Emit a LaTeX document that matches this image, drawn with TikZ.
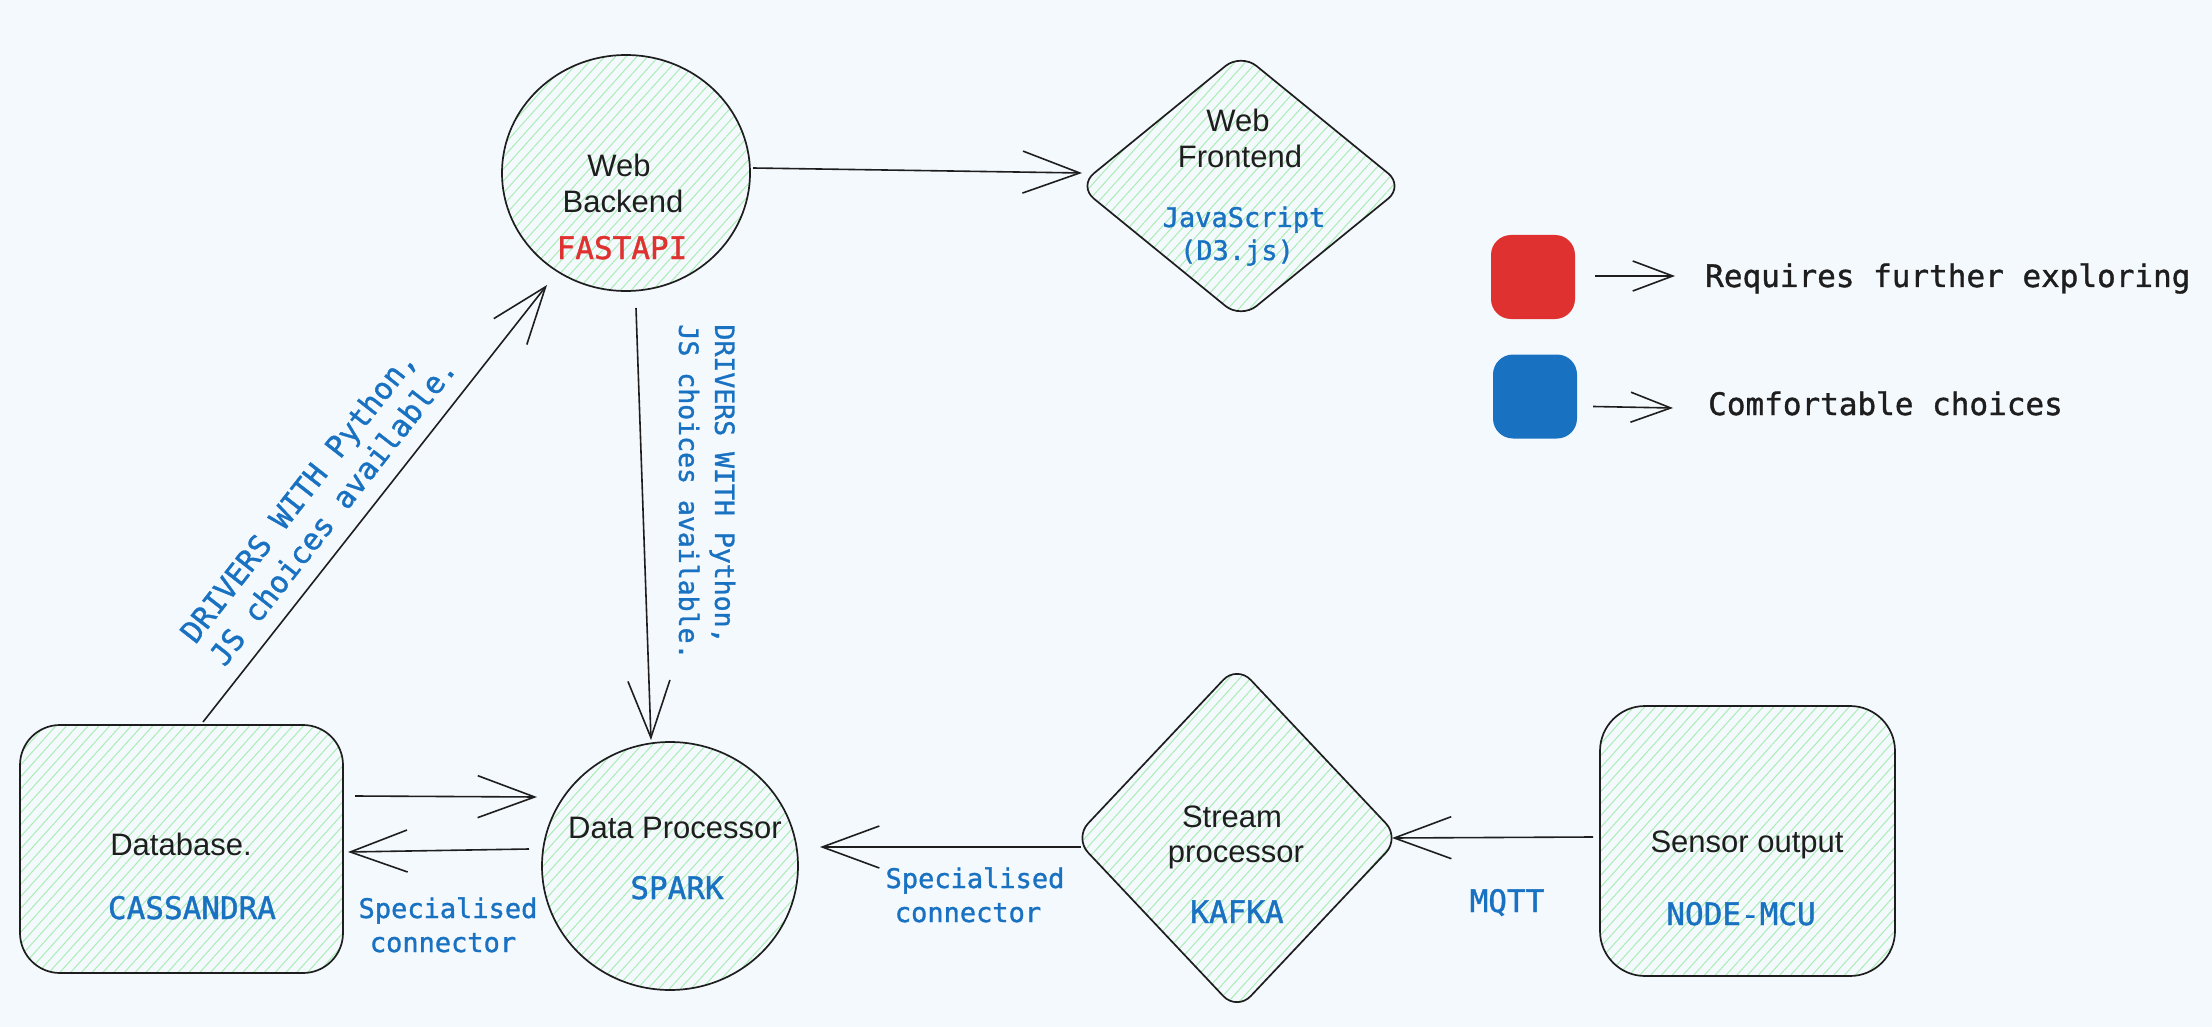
\documentclass[tikz,border=0pt]{standalone}
\usepackage{fontspec}
\setmainfont{Liberation Sans}
\newfontfamily\codefont[FakeBold=1.2]{DejaVu Sans Mono}
\usetikzlibrary{shapes.geometric,arrows.meta,patterns.meta,calc}
\definecolor{ink}{HTML}{1E1E1E}
\definecolor{codeblue}{HTML}{1971C2}
\definecolor{codered}{HTML}{E03131}
\definecolor{hatch}{HTML}{A9EDB3}
\definecolor{bgc}{HTML}{F4F9FD}
\begin{document}
\begin{tikzpicture}[x=1pt,y=-1pt,
  shp/.style={draw=ink, line width=1.7pt, pattern={Lines[angle=48,distance=8pt,line width=1pt]}, pattern color=hatch, inner sep=0pt},
  sans/.style={anchor=base, inner sep=0pt, text=ink, font=\fontsize{31}{37}\selectfont},
  code/.style={anchor=base, inner sep=0pt, text=codeblue, font=\codefont\fontsize{31}{37}\selectfont},
  note/.style={anchor=base, inner sep=0pt, text=codeblue, font=\codefont\fontsize{27}{33}\selectfont},
  legend/.style={anchor=base west, inner sep=0pt, text=ink, font=\codefont\fontsize{31}{37}\selectfont},
  arr/.style={draw=ink, line width=1.6pt, -{Straight Barb[length=57pt,width=42pt,line width=1.6pt]}},
  legarr/.style={draw=ink, line width=1.6pt, -{Straight Barb[length=40pt,width=30pt,line width=1.6pt]}},
  swatch/.style={rounded corners=20pt, minimum width=84pt, minimum height=84pt, inner sep=0pt}
]
\fill[bgc] (0,0) rectangle (2212,1027);
\useasboundingbox (0,0) rectangle (2212,1027);

% shapes
\node[shp, ellipse, minimum width=248pt, minimum height=236pt] (backend) at (626,173) {};
\node[shp, diamond, aspect=1.2256, minimum width=326pt, minimum height=266pt, rounded corners=20pt] (frontend) at (1241,186) {};
\node[shp, rectangle, rounded corners=40pt, minimum width=323pt, minimum height=248pt] (db) at (181.5,849) {};
\node[shp, ellipse, minimum width=256pt, minimum height=248pt] (spark) at (670,866) {};
\node[shp, diamond, aspect=0.9422, minimum width=326pt, minimum height=346pt, rounded corners=20pt] (kafka) at (1237,838) {};
\node[shp, rectangle, rounded corners=45pt, minimum width=295pt, minimum height=270pt] (sensor) at (1747.5,841) {};

% texts in shapes
\node[sans] (t-web1) at (619,177) {Web};
\node[sans] (t-backend) at (623,213) {Backend};
\node[code, text=codered] (t-fastapi) at (622,259) {FASTAPI};

\node[sans] (t-web2) at (1238,132) {Web};
\node[sans] (t-frontend) at (1240,168) {Frontend};
\node[note] (t-js) at (1244,227) {JavaScript};
\node[note] (t-d3) at (1237,260) {(D3.js)};

\node[sans] (t-db) at (181,855) {Database.};
\node[code] (t-cass) at (192,919) {CASSANDRA};

\node[sans] (t-dp) at (675,838) {Data Processor};
\node[code] (t-spark) at (677,899) {SPARK};

\node[sans] (t-stream) at (1232,827) {Stream};
\node[sans] (t-proc) at (1236,862) {processor};
\node[code] (t-kafka) at (1237,923) {KAFKA};

\node[sans] (t-sensor) at (1747,852) {Sensor output};
\node[code] (t-node) at (1741,925) {NODE-MCU};

% connector labels
\node[note] (l-spec1) at (448,918) {Specialised};
\node[note] (l-conn1) at (443,952) {connector};
\node[note] (l-spec2) at (975,888) {Specialised};
\node[note] (l-conn2) at (968,922) {connector};
\node[code] (l-mqtt) at (1507,912) {MQTT};
\node[note, anchor=center, rotate=52, align=left, font=\codefont\fontsize{30}{37}\selectfont] (l-drv1) at (318,500) {DRIVERS WITH Python,\\JS choices available.};
\node[note, anchor=center, rotate=-90, align=left, font=\codefont\fontsize{26.5}{36}\selectfont] (l-drv2) at (707,492) {DRIVERS WITH Python,\\JS choices available.};

% connectors
\draw[arr] ($(backend)+(127,-5)$) -- ($(frontend)+(-159,-13)$);
\draw[arr] ($(db)+(21.5,-127)$) -- ($(backend)+(-79,112)$);
\draw[arr] ($(backend)+(10,135)$) -- ($(spark)+(-19,-126)$);
\draw[arr] ($(db)+(173.5,-53)$) -- ($(spark)+(-133,-69)$);
\draw[arr] ($(spark)+(-141,-17)$) -- ($(db)+(166.5,3)$);
\draw[arr] ($(kafka)+(-156,9)$) -- ($(spark)+(150,-19)$);
\draw[arr] ($(sensor)+(-154.5,-4)$) -- ($(kafka)+(155,0)$);

% legend
\node[swatch, fill=codered] (red) at (1533,277) {};
\node[swatch, fill=codeblue] (blue) at (1535,396.5) {};
\node[legend] (l-req) at (1705,287) {Requires further exploring};
\node[legend] (l-comf) at (1708,415) {Comfortable choices};
\draw[legarr] ($(red.east)+(20,-1)$) -- ($(l-req.base west)+(-30,-11)$);
\draw[legarr] ($(blue.east)+(16,10)$) -- ($(l-comf.base west)+(-35,-7)$);
\end{tikzpicture}
\end{document}
